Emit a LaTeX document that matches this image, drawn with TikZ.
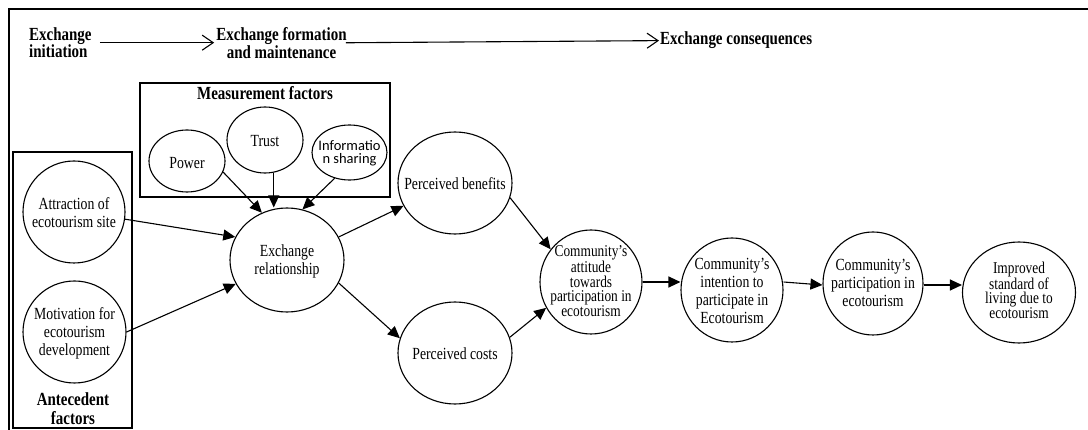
\documentclass[tikz,border=0pt]{standalone}
\usepackage{fontspec}
\setmainfont{Liberation Serif}[FakeStretch=0.81]
\newfontfamily\sansfam{Carlito}
\usetikzlibrary{shapes.geometric,arrows.meta}
\begin{document}
\begin{tikzpicture}[x=1pt,y=-1pt,
  every node/.style={inner sep=0pt},
  bubble/.style={ellipse,draw,line width=1.1pt},
  txt/.style={align=center,font=\fontsize{17}{18}\selectfont},
  tighttxt/.style={align=center,font=\fontsize{16.5}{14.5}\selectfont},
  hdr/.style={font=\bfseries\fontsize{18.5}{15.5}\selectfont},
  frame/.style={draw,line width=1.1pt},
  link/.style={line width=1.1pt,-{Triangle[length=12pt,width=11pt]}},
  flow/.style={line width=1.1pt,-{Straight Barb[length=11pt,width=15pt,line width=1.1pt]}}]
\useasboundingbox (0,0) rectangle (1088,430);

% outer frame (open at right and bottom)
\draw[line width=1.6pt] (9,430) -- (9,9) -- (1088,9);

% stage headings
\node[hdr,anchor=north west,align=left] (init) at (29,27) {Exchange\\initiation};
\node[hdr,anchor=north,align=center] (form) at (281.5,27) {Exchange formation\\and maintenance};
\node[hdr,anchor=base west] (cons) at (660,45) {Exchange consequences};
\draw[flow] ([xshift=8pt]init.east) -- ([xshift=-2pt]form.west |- init.east);
\draw[flow] ([xshift=-1pt]form.east) -- ([xshift=-1pt]cons.west);

% group boxes
\draw[frame] (140,83) rectangle (390,197);
\node[hdr,anchor=base] (meas) at (265,100) {Measurement factors};
\draw[frame] (13,152) rectangle (132,428);
\node[hdr,anchor=base,align=center,font=\bfseries\fontsize{18.5}{20}\selectfont] (ante) at (73,425) {Antecedent\\factors};

% measurement factors
\node[bubble,minimum width=76pt,minimum height=62pt] (power) at (187,161) {};
\node[txt] (power-t) at (187,163) {Power};
\node[bubble,minimum width=76pt,minimum height=66pt] (trust) at (265,140) {};
\node[txt] (trust-t) at (265,141) {Trust};
\node[bubble,minimum width=75pt,minimum height=55pt] (info) at (349.5,152.5) {};
\node[align=center,font=\sansfam\fontsize{14.5}{13}\selectfont] (info-t) at (349.5,153) {Informatio\\n sharing};

% antecedent factors
\node[bubble,minimum width=102pt,minimum height=102pt] (attr) at (74,212) {};
\node[txt] (attr-t) at (74,213) {Attraction of\\ecotourism site};
\node[bubble,minimum width=103pt,minimum height=102pt] (motiv) at (74.5,332) {};
\node[txt] (motiv-t) at (74.5,333) {Motivation for\\ecotourism\\development};

% exchange relationship and outcomes
\node[bubble,minimum width=114pt,minimum height=104pt] (exch) at (287,260) {};
\node[txt] (exch-t) at (287,261) {Exchange\\relationship};
\node[bubble,minimum width=114pt,minimum height=102pt] (ben) at (455,183) {};
\node[txt] (ben-t) at (455,184) {Perceived benefits};
\node[bubble,minimum width=114pt,minimum height=102pt] (cost) at (455,353) {};
\node[txt] (cost-t) at (455,354) {Perceived costs};
\node[bubble,minimum width=102pt,minimum height=104pt] (att) at (591,282) {};
\node[tighttxt] (att-t) at (591,281) {Community’s\\attitude\\towards\\participation in\\ecotourism};
\node[bubble,minimum width=102pt,minimum height=104pt] (intn) at (732,290) {};
\node[txt] (intn-t) at (732,291) {Community’s\\intention to\\participate in\\Ecotourism};
\node[bubble,minimum width=100pt,minimum height=103pt] (part) at (873,283.5) {};
\node[txt] (part-t) at (873,283) {Community’s\\participation in\\ecotourism};
\node[bubble,minimum width=113pt,minimum height=101pt] (impr) at (1019,292.5) {};
\node[tighttxt] (impr-t) at (1019,290) {Improved\\standard of\\living due to\\ecotourism};

% connectors
\draw[link] (power.-17) -- (exch.118);
\draw[link] (trust.-75) -- (trust.-75 |- exch.north);
\draw[link] (info.-120) -- (exch.73);
\draw[link] (attr.-8) -- (exch.156);
\draw[link] (motiv.east) -- (exch.205);
\draw[link] (exch.24) -- (ben.204);
\draw[link] (exch.-24) -- (cost.165);
\draw[link] (ben.-15) -- (att.141);
\draw[link] (cost.16) -- (att.210);
\draw[link] (att.east) -- (att.east -| intn.west);
\draw[link] (intn.east |- att.east) -- (part.west |- 0,285);
\draw[link] (part.east |- 0,285) -- (impr.west |- 0,285);
\end{tikzpicture}
\end{document}
